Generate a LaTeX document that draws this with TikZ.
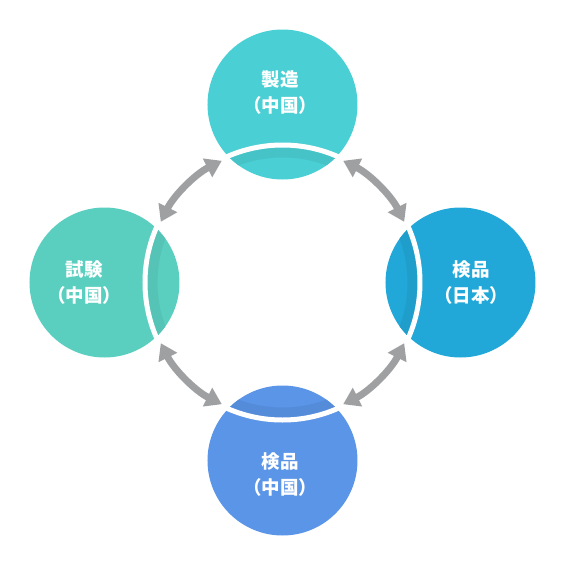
\documentclass[tikz,border=0pt]{standalone}
\usepackage{fontspec}
\newfontfamily\cjk{Noto Sans CJK JP}
\usetikzlibrary{arrows.meta}
\definecolor{cMake}{HTML}{4ACFD4}
\definecolor{cTest}{HTML}{5ACFC0}
\definecolor{cCheckJP}{HTML}{22A8D8}
\definecolor{cCheckCN}{HTML}{5B95E8}
\definecolor{linkgray}{HTML}{9EA0A2}
\tikzset{stage/.style={circle,minimum size=150pt,inner sep=0pt},
  lbl/.style={text=white,font=\cjk\bfseries\fontsize{18.5}{25.5}\selectfont,align=center},
  link/.style={line width=7pt,draw=linkgray,{Triangle[width=20pt,length=16pt]}-{Triangle[width=20pt,length=16pt]}}}

\begin{document}
\begin{tikzpicture}[x=1pt,y=1pt]
\useasboundingbox (-282.5,-283.5) rectangle (283.5,282.5);
\coordinate (c) at (0,0);
\node (s1) [stage,fill=cMake] at (0,178) {};
\node (s2) [stage,fill=cTest] at (-178,0) {};
\node (s3) [stage,fill=cCheckJP] at (178,0) {};
\node (s4) [stage,fill=cCheckCN] at (0,-178) {};
%
% darker band inside the ring
\foreach \s/\col in {s1/cMake,s2/cTest,s3/cCheckJP,s4/cCheckCN} {
  \begin{scope}
    \clip (\s) circle (75);
    \fill[\col!94!black,even odd rule] (c) circle (135) (c) circle (125);
  \end{scope}
}
\draw[white,line width=5pt] (c) circle (137.5);
%
\node (t1) [lbl] at ([shift={(-2,12)}]s1) {製造\\（中国）};
\node (t2) [lbl] at ([shift={(-20,0)}]s2) {試験\\（中国）};
\node (t3) [lbl] at ([shift={(11,0)}]s3) {検品\\（日本）};
\node (t4) [lbl] at ([shift={(-2,-14)}]s4) {検品\\（中国）};
%
% arrows along the ring
\foreach \a in {45,135,225,315}
  \draw[link] ([shift={(\a+18.5:136)}]c) arc[start angle=\a+18.5,end angle=\a-18.5,radius=136];
\end{tikzpicture}
\end{document}
